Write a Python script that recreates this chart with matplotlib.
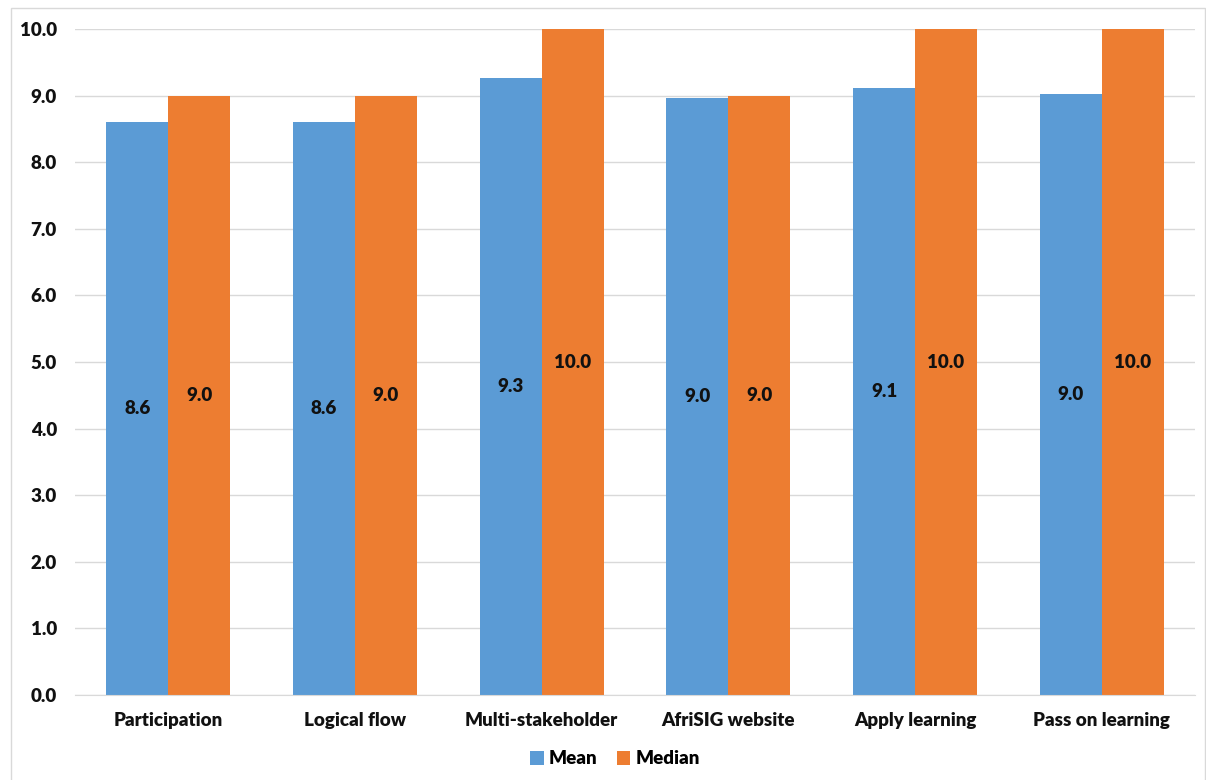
import matplotlib
matplotlib.use("Agg")
import matplotlib.pyplot as plt
from matplotlib.patches import Rectangle
import numpy as np

categories = ["Participation", "Logical flow", "Multi-stakeholder",
              "AfriSIG website", "Apply learning", "Pass on learning"]
mean_vals = [8.60, 8.60, 9.26, 8.96, 9.12, 9.03]
median_vals = [9.0, 9.0, 10.0, 9.0, 10.0, 10.0]
series_names = ["Mean", "Median"]
yticks = [0, 1, 2, 3, 4, 5, 6, 7, 8, 9, 10]

blue = "#5b9bd5"
orange = "#ed7d31"
grid = "#d9d9d9"
ink = "#111111"
weight = "heavy"
fsize = 13.5

plt.rcParams["font.family"] = ["Lato", "DejaVu Sans"]

fig = plt.figure(figsize=(12.06, 7.80), dpi=100)
fig.patches.append(Rectangle((11 / 1206, -0.01), (1205 - 11) / 1206, (780 - 8) / 780 + 0.01,
                             transform=fig.transFigure, fill=False,
                             edgecolor=grid, linewidth=1.0))

ax = fig.add_axes([75 / 1206, 85 / 780, (1195 - 75) / 1206, (695 - 29) / 780])
x = np.arange(len(categories))
w = 0.332
b1 = ax.bar(x - w / 2, mean_vals, w, color=blue, label=series_names[0], zorder=3)
b2 = ax.bar(x + w / 2, median_vals, w, color=orange, label=series_names[1], zorder=3)

# value labels sit at the vertical middle of each bar
for bars in (b1, b2):
    for r in bars:
        v = r.get_height()
        ax.text(r.get_x() + r.get_width() / 2, v / 2, f"{v:.1f}",
                ha="center", va="center", fontsize=fsize, fontweight=weight,
                color=ink, zorder=4)

ax.set_xlim(-0.5, len(categories) - 0.5)
ax.set_ylim(0, 10)
ax.set_yticks(yticks)
ax.set_yticklabels([f"{t:.1f}" for t in yticks], fontweight=weight)
ax.set_xticks(x)
ax.set_xticklabels(categories, fontweight=weight)
ax.tick_params(axis="both", length=0, labelsize=fsize, labelcolor=ink)
ax.tick_params(axis="y", pad=13)
ax.tick_params(axis="x", pad=12)
ax.yaxis.grid(True, color=grid, linewidth=1.0, zorder=0)
ax.set_axisbelow(True)
for s in ("top", "right", "left"):
    ax.spines[s].set_visible(False)
ax.spines["bottom"].set_color(grid)
ax.spines["bottom"].set_zorder(5)

fig.legend(handles=[b1, b2], loc="center", bbox_to_anchor=(615 / 1206, 1 - 759 / 780),
           ncol=2, frameon=False, handlelength=0.7, handleheight=0.7,
           handletextpad=0.3, columnspacing=1.0,
           prop={"size": fsize, "weight": weight})

fig.savefig("out.png", dpi=100)
